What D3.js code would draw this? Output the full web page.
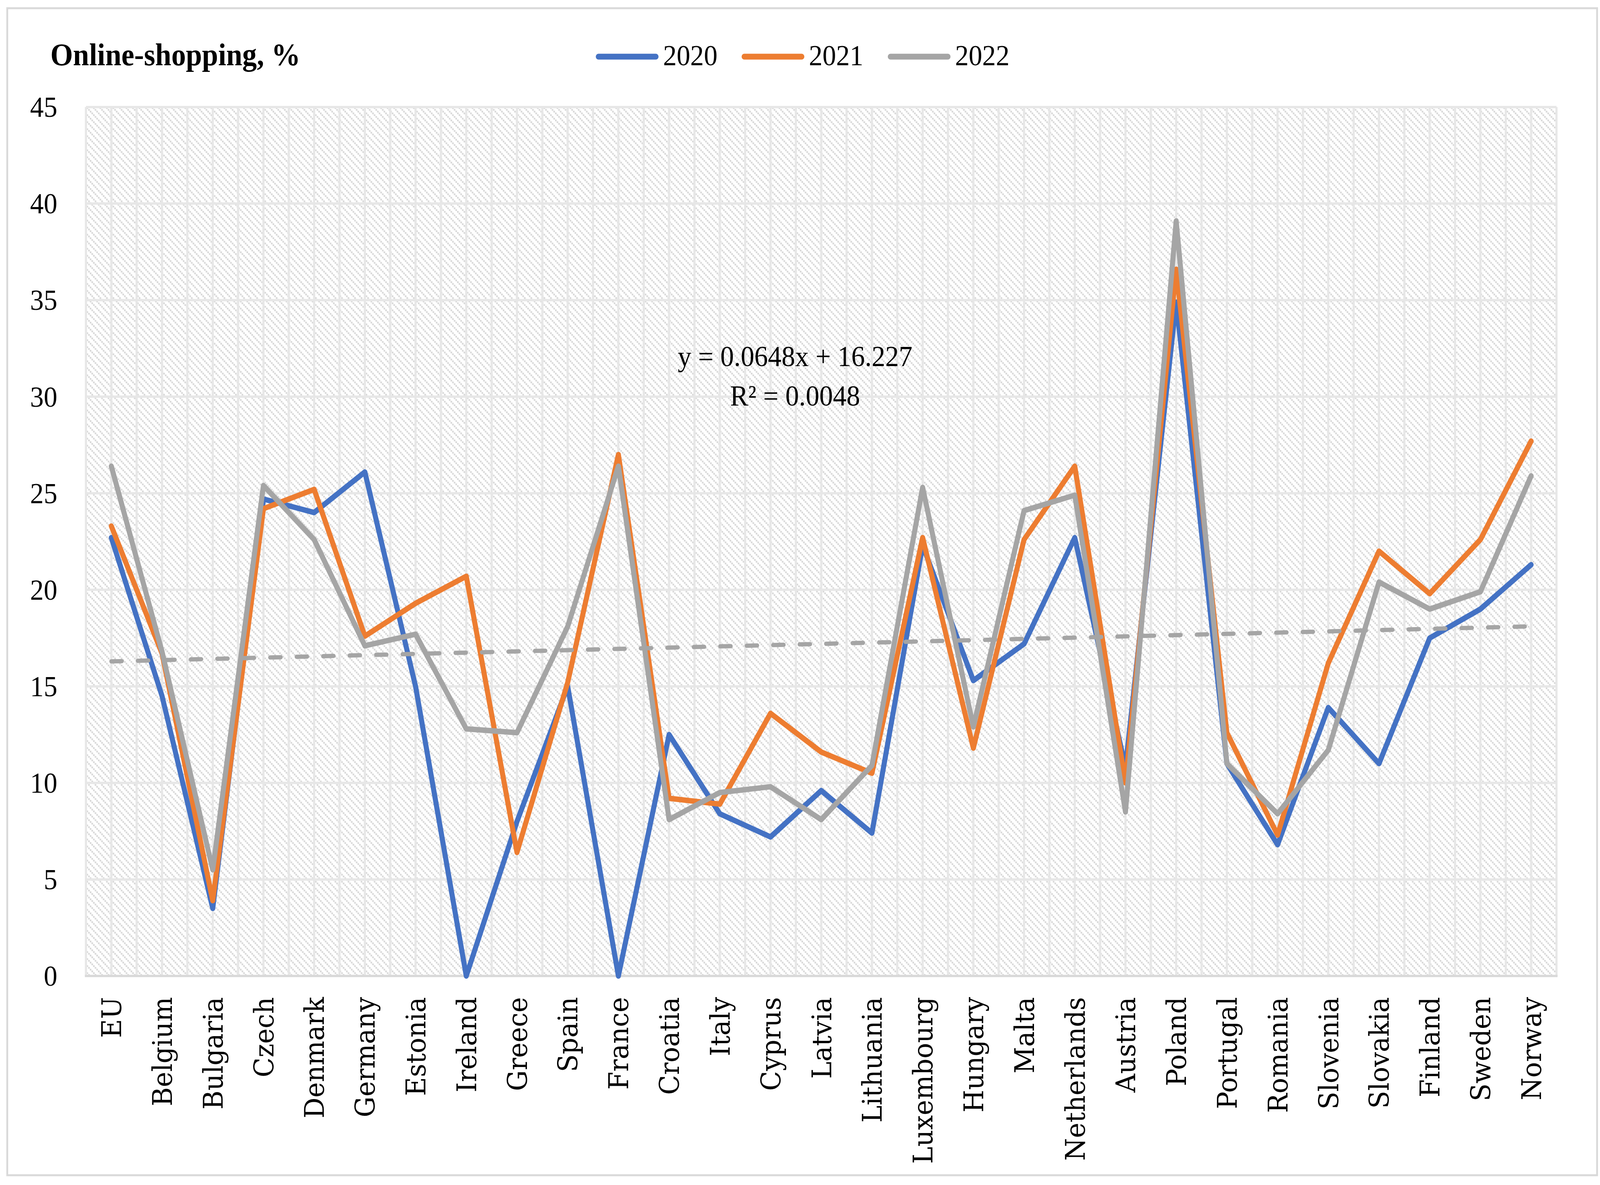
<!DOCTYPE html>
<html>
<head>
<meta charset="utf-8">
<script src="https://cdn.jsdelivr.net/npm/d3@7"></script>
<style>
  html, body { margin: 0; padding: 0; background: #ffffff; overflow: hidden; }
  svg { display: block; }
</style>
</head>
<body>
<svg id="chart"></svg>
<script>
// ---------------- DATA ----------------
const categories = ["EU","Belgium","Bulgaria","Czech","Denmark","Germany","Estonia","Ireland","Greece","Spain",
  "France","Croatia","Italy","Cyprus","Latvia","Lithuania","Luxembourg","Hungary","Malta","Netherlands",
  "Austria","Poland","Portugal","Romania","Slovenia","Slovakia","Finland","Sweden","Norway"];

const values2020 = [22.7, 14.5, 3.5, 24.7, 24.0, 26.1, 15.0, 0.0, 8.0, 15.0,
  0.0, 12.5, 8.4, 7.2, 9.6, 7.4, 22.3, 15.3, 17.2, 22.7,
  10.8, 34.9, 11.0, 6.8, 13.9, 11.0, 17.5, 19.0, 21.3];

const values2021 = [23.3, 16.7, 3.9, 24.2, 25.2, 17.6, 19.3, 20.7, 6.4, 15.2,
  27.0, 9.2, 8.9, 13.6, 11.6, 10.5, 22.7, 11.8, 22.6, 26.4,
  10.0, 36.6, 12.6, 7.3, 16.2, 22.0, 19.8, 22.6, 27.7];

const values2022 = [26.4, 16.8, 5.5, 25.4, 22.6, 17.1, 17.7, 12.8, 12.6, 18.1,
  26.4, 8.1, 9.5, 9.8, 8.1, 10.9, 25.3, 12.9, 24.1, 24.9,
  8.5, 39.1, 11.0, 8.4, 11.7, 20.4, 19.0, 19.9, 25.9];

const seriesNames = ["2020", "2021", "2022"];
const seriesColors = ["#4472C4", "#ED7D31", "#A5A5A5"];

const yTicks = [0, 5, 10, 15, 20, 25, 30, 35, 40, 45];

const trendSlope = 0.0648;
const trendIntercept = 16.227;
const equationLines = ["y = 0.0648x + 16.227", "R\u00B2 = 0.0048"];

const titleText = "Online-shopping, %";

// ---------------- LAYOUT ----------------
const W = 4411, H = 3033;
const plot = { left: 237, right: 4291, top: 274, bottom: 2498 };
const numFont = "'Liberation Serif', 'Times New Roman', serif";
const labelFont = "'DejaVu Serif Condensed', 'DejaVu Serif', serif";

const vw = window.innerWidth || W, vh = window.innerHeight || H;
const svg = d3.select("#chart")
  .attr("width", vw).attr("height", vh)
  .attr("viewBox", `0 0 ${W} ${H}`)
  .attr("preserveAspectRatio", "none");

svg.append("rect").attr("x", 0).attr("y", 0).attr("width", W).attr("height", H).attr("fill", "#ffffff");

// outer chart border
svg.append("rect")
  .attr("x", 20).attr("y", 21).attr("width", 4383).attr("height", 2987)
  .attr("fill", "none").attr("stroke", "#d9d9d9").attr("stroke-width", 5);

// pattern
const defs = svg.append("defs");
const pat = defs.append("pattern").attr("id", "hatch")
  .attr("patternUnits", "userSpaceOnUse").attr("width", 18).attr("height", 18);
pat.append("rect").attr("width", 18).attr("height", 18).attr("fill", "#ffffff");
[0, 1, 2, 3].forEach(i => {
  pat.append("rect").attr("x", i * 4.5).attr("y", i * 4.5).attr("width", 4.5).attr("height", 4.5).attr("fill", "#d9d9d9");
});

// scales
const x = d3.scalePoint().domain(categories).range([plot.left, plot.right]).padding(0.5);
const y = d3.scaleLinear().domain([0, 45]).range([plot.bottom, plot.top]);

// plot background
svg.append("rect")
  .attr("x", plot.left).attr("y", plot.top)
  .attr("width", plot.right - plot.left).attr("height", plot.bottom - plot.top)
  .attr("fill", "url(#hatch)");

// vertical gridlines (category centres and boundaries)
const half = x.step() / 2;
const vLines = [];
categories.forEach(c => { vLines.push(x(c) - half); vLines.push(x(c)); });
vLines.push(x(categories[categories.length - 1]) + half);
svg.append("g").selectAll("line").data(vLines).join("line")
  .attr("x1", d => d).attr("x2", d => d)
  .attr("y1", plot.top).attr("y2", plot.bottom)
  .attr("stroke", "#e7e7e7").attr("stroke-width", 6);

// horizontal gridlines
svg.append("g").selectAll("line").data(yTicks.filter(t => t > 0)).join("line")
  .attr("x1", plot.left).attr("x2", plot.right)
  .attr("y1", d => y(d)).attr("y2", d => y(d))
  .attr("stroke", "#e7e7e7").attr("stroke-width", 6);

// x axis line
svg.append("line")
  .attr("x1", plot.left - 3).attr("x2", plot.right + 3)
  .attr("y1", plot.bottom).attr("y2", plot.bottom)
  .attr("stroke", "#d9d9d9").attr("stroke-width", 6);

// y axis
const yAxis = d3.axisLeft(y).tickValues(yTicks).tickSize(0).tickPadding(plot.left - 158);
const gy = svg.append("g").attr("transform", `translate(${plot.left},0)`).call(yAxis);
gy.select(".domain").remove();
gy.selectAll("text")
  .attr("font-family", numFont).attr("font-size", 75).attr("fill", "#000000")
  .attr("dy", "0.33em");

// x axis
const xAxis = d3.axisBottom(x).tickSize(0);
const gx = svg.append("g").attr("transform", `translate(0,${plot.bottom})`).call(xAxis);
gx.select(".domain").remove();
gx.selectAll("text")
  .attr("font-family", labelFont).attr("font-stretch", "condensed")
  .attr("font-size", 74).attr("fill", "#000000")
  .attr("transform", "rotate(-90)")
  .attr("text-anchor", "end")
  .attr("x", -54).attr("y", 0).attr("dy", "0.36em");

// series lines
const allSeries = [values2020, values2021, values2022];
const line = d3.line().x((d, i) => x(categories[i])).y(d => y(d));
allSeries.forEach((vals, k) => {
  svg.append("path").datum(vals)
    .attr("d", line)
    .attr("fill", "none")
    .attr("stroke", seriesColors[k])
    .attr("stroke-width", 14)
    .attr("stroke-linejoin", "round")
    .attr("stroke-linecap", "round");
});

// trendline (x = 1..n)
const trendPts = [1, categories.length].map(n => ({ c: categories[n - 1], v: trendSlope * n + trendIntercept }));
svg.append("path").datum(trendPts)
  .attr("d", d3.line().x(d => x(d.c)).y(d => y(d.v)))
  .attr("fill", "none").attr("stroke", "#A5A5A5").attr("stroke-width", 11)
  .attr("stroke-linecap", "round").attr("stroke-dasharray", "29 44");

// equation label
const eq = svg.append("g");
equationLines.forEach((t, i) => {
  eq.append("text")
    .attr("x", 2192).attr("y", 937 + i * 101)
    .attr("text-anchor", "middle")
    .attr("font-family", numFont).attr("font-size", 75).attr("fill", "#000000")
    .text(t);
});

// title
svg.append("text")
  .attr("x", 139).attr("y", 167)
  .attr("font-family", numFont).attr("font-weight", "bold").attr("font-size", 80)
  .attr("fill", "#000000")
  .text(titleText);

// legend
const legendX = [1650, 2052, 2455];
const lg = svg.append("g");
seriesNames.forEach((name, k) => {
  lg.append("line")
    .attr("x1", legendX[k]).attr("x2", legendX[k] + 158)
    .attr("y1", 145).attr("y2", 145)
    .attr("stroke", seriesColors[k]).attr("stroke-width", 15).attr("stroke-linecap", "round");
  lg.append("text")
    .attr("x", legendX[k] + 178).attr("y", 167)
    .attr("font-family", numFont).attr("font-size", 75).attr("fill", "#000000")
    .text(name);
});
</script>
</body>
</html>
